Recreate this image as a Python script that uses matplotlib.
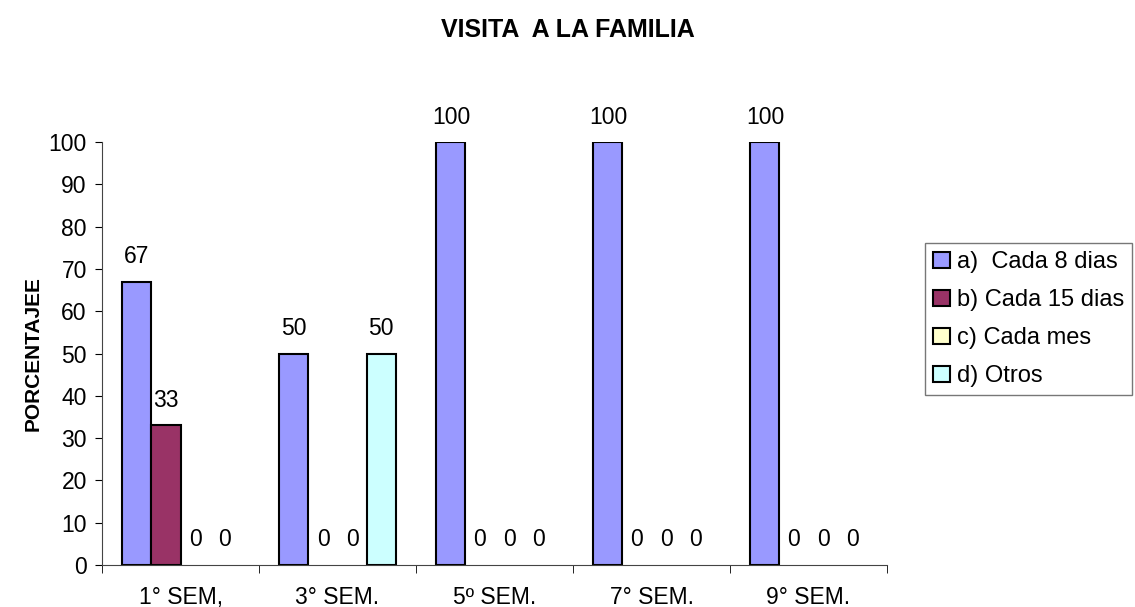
import numpy as np
import matplotlib.pyplot as plt

plt.rcParams['font.family'] = ['Liberation Sans', 'DejaVu Sans']

# datos
semestres = ['1° SEM,', '3° SEM.', '5º SEM.', '7° SEM.', '9° SEM.']
series = ['a)  Cada 8 dias', 'b) Cada 15 dias', 'c) Cada mes', 'd) Otros']
cada_8 = [67, 50, 100, 100, 100]
cada_15 = [33, 0, 0, 0, 0]
cada_mes = [0, 0, 0, 0, 0]
otros = [0, 50, 0, 0, 0]
colores = ['#9999FF', '#993366', '#FFFFCC', '#CCFFFF']

fig = plt.figure(figsize=(11.35, 6.07), dpi=100)
ax = fig.add_axes([0.0899, 0.0692, 0.6916, 0.6968])

x = np.arange(len(semestres))
ancho = 0.185
valores = [cada_8, cada_15, cada_mes, otros]
for i, (vals, nombre, col) in enumerate(zip(valores, series, colores)):
    pos = x + (i - 1.5) * ancho
    # las barras en cero no se dibujan con borde
    grosor = [1.5 if v else 0 for v in vals]
    ax.bar(pos, vals, ancho, color=col, edgecolor='black', linewidth=grosor)
    ax.bar(0, 0, 0, color=col, edgecolor='black', linewidth=1.5, label=nombre)
    for p, v in zip(pos, vals):
        ax.annotate(str(v), (p, v), xytext=(0, 18), textcoords='offset points',
                    ha='center', va='center', fontsize=16.5)

ax.set_xlim(-0.5, len(semestres) - 0.5)
ax.set_ylim(0, 100)
ax.set_yticks(range(0, 101, 10))
ax.tick_params(axis='y', labelsize=16.5, direction='out', length=5, pad=6)
ax.set_xticks(x)
ax.set_xticklabels(semestres, fontsize=16.5)
ax.tick_params(axis='x', length=0, pad=15)
ax.set_xticks(np.arange(-0.5, len(semestres)), minor=True)
ax.tick_params(axis='x', which='minor', length=6, direction='out')
for s in ['top', 'right']:
    ax.spines[s].set_visible(False)
ax.spines['left'].set_color('#444444')
ax.spines['bottom'].set_color('#444444')
ax.set_ylabel('PORCENTAJEE', fontsize=15, fontweight='bold')
ax.yaxis.set_label_coords(-0.076, 0.5)

fig.text(0.5, 0.95, 'VISITA  A LA FAMILIA', fontsize=18, fontweight='bold',
         ha='center', va='center')

leg = fig.legend(loc='upper left', bbox_to_anchor=(0.815, 0.60), fontsize=17,
                 frameon=True, fancybox=False, edgecolor='#555555',
                 handlelength=0.7, handleheight=0.7, handletextpad=0.3,
                 labelspacing=0.68, borderpad=0.35, borderaxespad=0)
leg.get_frame().set_linewidth(1)

fig.savefig('out.png', dpi=100)
